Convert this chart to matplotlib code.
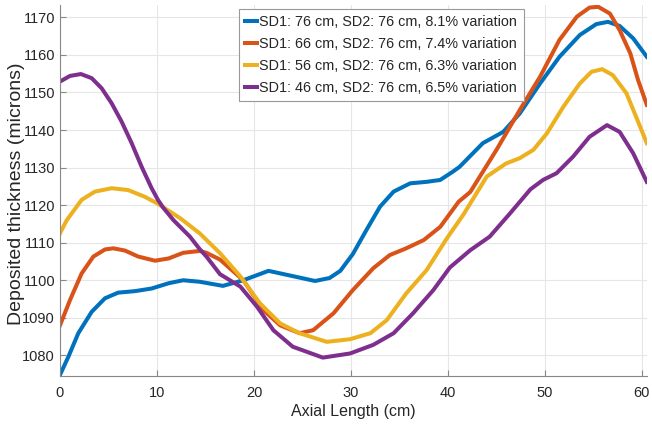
import matplotlib
matplotlib.use("Agg")
import matplotlib.pyplot as plt

plt.rcParams['font.family'] = ['Liberation Sans', 'DejaVu Sans']

# SD1: 76 cm
x_76 = [0, 0.86, 1.89, 3.27, 4.64, 6.0, 7.73, 9.45, 11.2, 12.7, 14.4, 16.8, 18.9, 21.5,
        24.0, 26.3, 27.8, 28.9, 30.2, 31.6, 33.0, 34.4, 36.1, 37.8, 39.2, 40.5, 41.2,
        43.6, 45.7, 47.4, 49.5, 51.5, 53.6, 55.3, 56.5, 57.7, 59.1, 60.5]
y_76 = [1074.8, 1079.6, 1085.9, 1091.6, 1095.2, 1096.7, 1097.1, 1097.8, 1099.2, 1100,
        1099.6, 1098.5, 1100, 1102.5, 1101.1, 1099.8, 1100.6, 1102.5, 1107, 1113.4,
        1119.6, 1123.6, 1125.8, 1126.2, 1126.7, 1128.9, 1130.2, 1136.5, 1139.5, 1144.4,
        1152.4, 1159.5, 1165.3, 1168.2, 1168.8, 1167.7, 1164.4, 1159.5]

# SD1: 66 cm
x_66 = [0, 1.03, 2.23, 3.44, 4.64, 5.5, 6.7, 8.07, 9.8, 11.2, 12.7, 14.4, 15.1, 16.5,
        18.9, 21, 22.7, 24.7, 26.1, 28.2, 30.2, 32.3, 34.0, 35.7, 37.5, 39.2, 41.1, 42.3,
        45, 47.4, 49.5, 51.5, 53.3, 54.6, 55.5, 56.7, 57.7, 58.8, 59.6, 60.5]
y_66 = [1088, 1094.7, 1101.8, 1106.3, 1108.2, 1108.5, 1107.9, 1106.3, 1105.2, 1105.8,
        1107.3, 1107.8, 1107.3, 1105.5, 1100, 1092, 1088, 1085.9, 1086.7, 1091.2, 1097.4,
        1103.2, 1106.7, 1108.5, 1110.7, 1114.2, 1120.9, 1123.5, 1134.7, 1145.3, 1154.2,
        1164, 1170.2, 1172.6, 1172.8, 1171, 1166.6, 1160.4, 1153.3, 1146.7]

# SD1: 56 cm
x_56 = [0, 0.7, 2.23, 3.6, 5.33, 7.04, 8.76, 10, 12.4, 14.4, 16.5, 18.6, 20.6, 22.7,
        24.7, 27.5, 29.9, 32, 33.7, 35.7, 37.8, 39.9, 41.6, 44, 46, 47.4, 48.8, 50.2,
        51.9, 53.6, 54.8, 55.9, 57.0, 58.4, 59.4, 60.5]
y_56 = [1112.5, 1116, 1121.4, 1123.6, 1124.5, 1124, 1122.2, 1120.5, 1116.5, 1112.5,
        1107.2, 1101, 1093.9, 1088.5, 1085.9, 1083.6, 1084.3, 1085.9, 1089.4, 1096.5,
        1102.7, 1111.2, 1117.5, 1127.6, 1131.1, 1132.5, 1134.7, 1139.1, 1146.2, 1152.4,
        1155.5, 1156.2, 1154.6, 1149.8, 1143.5, 1136.5]

# SD1: 46 cm
x_46 = [0, 1.03, 2.16, 3.27, 4.3, 5.33, 6.36, 7.39, 8.42, 9.45, 10.1, 10.65, 11.7, 13.4,
        14.4, 15.1, 16.5, 18.6, 20.3, 22, 24, 27.1, 29.9, 32.3, 34.4, 36.4, 38.5, 40.2,
        42.3, 44.3, 46.4, 48.5, 49.8, 51.2, 52.9, 54.6, 56.4, 57.7, 59.1, 60.5]
y_46 = [1152.9, 1154.4, 1154.9, 1153.8, 1151.1, 1147.1, 1142.2, 1136.5, 1130.2, 1124.5,
        1121.4, 1119.3, 1116, 1111.6, 1108.3, 1106.3, 1101.6, 1098.3, 1093, 1086.7, 1082.3,
        1079.4, 1080.5, 1082.8, 1085.9, 1091.2, 1097.4, 1103.4, 1108, 1111.6, 1117.8,
        1124.2, 1126.7, 1128.5, 1132.9, 1138.2, 1141.3, 1139.5, 1133.8, 1126.2]

labels = ["SD1: 76 cm, SD2: 76 cm, 8.1% variation",
          "SD1: 66 cm, SD2: 76 cm, 7.4% variation",
          "SD1: 56 cm, SD2: 76 cm, 6.3% variation",
          "SD1: 46 cm, SD2: 76 cm, 6.5% variation"]
colors = ["#0072BD", "#D95319", "#EDB120", "#7E2F8E"]

xticks = [0, 10, 20, 30, 40, 50, 60]
yticks = [1080, 1090, 1100, 1110, 1120, 1130, 1140, 1150, 1160, 1170]

fig = plt.figure(figsize=(6.52, 4.29), dpi=100)
ax = fig.add_axes([0.092, 0.1235, 0.9, 0.865])

for xs, ys, c, lab in zip([x_76, x_66, x_56, x_46], [y_76, y_66, y_56, y_46], colors, labels):
    ax.plot(xs, ys, color=c, lw=2.9, label=lab, solid_joinstyle='round')

ax.set_xlim(0, 60.5)
ax.set_ylim(1074.5, 1173.3)
ax.set_xticks(xticks)
ax.set_yticks(yticks)
ax.grid(True, color='#e6e6e6', lw=0.8)
ax.set_axisbelow(True)
for s in ['top', 'right']:
    ax.spines[s].set_visible(False)
for s in ['left', 'bottom']:
    ax.spines[s].set_color('#888888')
    ax.spines[s].set_linewidth(0.8)
ax.tick_params(direction='in', length=4, color='#888888', labelsize=10.5, labelcolor='#262626')
ax.tick_params(axis='x', pad=7)
ax.set_xlabel('Axial Length (cm)', fontsize=11.5, color='#262626', labelpad=3)
ax.set_ylabel('Deposited thickness (microns)', fontsize=14, color='#262626')
ax.yaxis.set_label_coords(-0.059, 0.49)

leg = ax.legend(loc='upper left', bbox_to_anchor=(0.305, 0.99), fontsize=10.4,
                handlelength=0.8, handletextpad=0.15, borderpad=0.45, labelspacing=0.55,
                borderaxespad=0, fancybox=False, framealpha=1, edgecolor='#999999')
leg.get_frame().set_linewidth(0.8)
for t in leg.get_texts():
    t.set_color('#262626')

fig.savefig('out.png', dpi=100)
